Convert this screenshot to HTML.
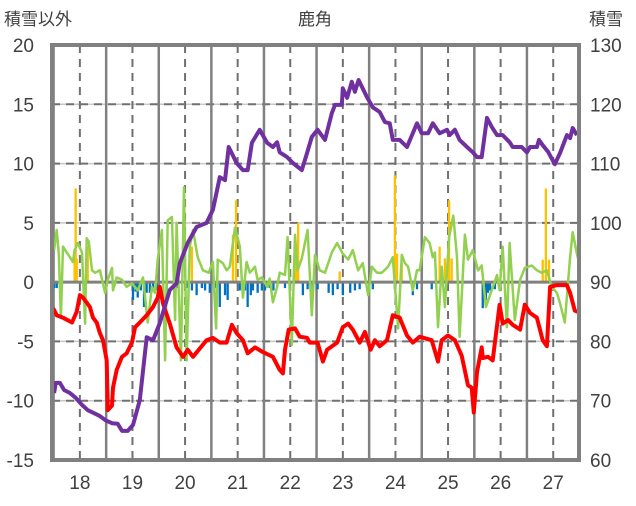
<!DOCTYPE html>
<html><head><meta charset="utf-8"><style>
body{margin:0;background:#fff;font-family:"Liberation Sans","Noto Sans CJK JP",sans-serif;}
svg text{font-family:"Liberation Sans","Noto Sans CJK JP",sans-serif;fill:#404040;}
</style></head><body>
<svg id="chart" width="636" height="501" xmlns="http://www.w3.org/2000/svg"></svg>
<script>
const purpleDays=[17.51,17.54,17.62,17.70,17.81,17.92,18.04,18.15,18.27,18.38,18.49,18.61,18.72,18.80,18.91,19.01,19.14,19.27,19.39,19.52,19.71,19.84,19.90,20.05,20.22,20.41,20.53,20.66,20.76,20.83,20.98,21.10,21.19,21.27,21.42,21.56,21.67,21.75,21.80,21.94,22.05,22.22,22.32,22.41,22.52,22.66,22.79,22.85,22.98,23.00,23.08,23.17,23.23,23.30,23.46,23.57,23.70,23.80,23.89,23.95,24.08,24.22,24.41,24.50,24.62,24.71,24.84,24.98,25.03,25.13,25.22,25.36,25.47,25.55,25.64,25.74,25.83,25.93,26.04,26.17,26.23,26.40,26.50,26.56,26.69,26.73,26.80,26.90,27.03,27.13,27.26,27.32,27.37,27.45];
const purpleVals=[71.3,73.0,73.0,71.8,71.3,70.5,69.3,68.4,67.9,67.4,66.7,66.2,66.1,64.9,64.9,65.9,70.1,80.7,80.2,83.1,88.7,89.8,93.2,96.6,99.3,100.0,102.2,107.7,107.2,112.8,110.1,108.9,108.9,113.5,115.7,113.5,112.8,113.6,111.9,111.1,110.1,108.9,111.8,114.5,115.7,114.0,118.5,119.9,119.9,122.7,121.1,123.8,122.1,124.1,121.2,119.5,118.7,117.0,116.8,114.0,114.0,112.8,116.8,115.1,115.1,116.8,115.1,115.7,114.8,115.7,114.0,112.8,111.9,111.1,111.1,117.7,116.2,114.8,114.8,113.6,112.8,112.8,111.9,112.8,112.8,114.0,113.1,112.0,109.9,111.8,114.8,114.3,116.0,114.8];
const redDays=[17.49,17.56,17.68,17.85,17.94,18.00,18.06,18.19,18.25,18.32,18.38,18.44,18.51,18.53,18.61,18.63,18.70,18.80,18.89,18.99,19.05,19.14,19.27,19.39,19.48,19.52,19.58,19.71,19.84,19.96,20.05,20.15,20.28,20.41,20.53,20.66,20.79,20.89,20.98,21.10,21.19,21.33,21.48,21.67,21.80,21.86,21.90,21.97,22.09,22.18,22.32,22.37,22.52,22.62,22.70,22.89,23.00,23.10,23.19,23.32,23.42,23.53,23.61,23.70,23.84,23.95,24.08,24.22,24.33,24.46,24.69,24.81,24.88,25.00,25.13,25.26,25.38,25.45,25.49,25.55,25.64,25.66,25.76,25.85,25.98,26.04,26.14,26.23,26.37,26.46,26.56,26.69,26.80,26.88,26.94,27.07,27.26,27.32,27.41,27.47];
const redVals=[-2.2,-2.8,-3.0,-3.4,-2.5,-1.1,-1.3,-2.1,-3.0,-3.4,-4.3,-4.9,-6.6,-10.8,-10.4,-8.9,-7.4,-6.3,-6.0,-5.1,-3.8,-3.4,-2.8,-2.1,-1.3,-0.4,-1.8,-3.5,-5.5,-6.3,-5.7,-6.3,-5.6,-4.9,-4.7,-5.1,-5.1,-3.6,-4.3,-4.9,-6.0,-5.5,-5.9,-6.3,-7.4,-7.7,-5.7,-4.0,-3.9,-4.6,-4.7,-5.1,-5.1,-6.7,-5.7,-5.1,-3.8,-3.5,-4.0,-5.1,-4.2,-5.7,-4.9,-5.4,-4.9,-2.8,-3.0,-4.5,-5.1,-4.6,-4.9,-6.7,-4.9,-4.5,-4.9,-6.2,-8.7,-8.9,-11.0,-7.6,-5.5,-6.4,-6.3,-6.6,-1.9,-3.5,-3.2,-3.6,-4.0,-1.9,-2.6,-3.0,-4.9,-5.4,-0.4,-0.25,-0.25,-0.9,-2.4,-2.5];
const greenDays=[17.51,17.56,17.60,17.64,17.68,17.75,17.81,17.87,17.90,17.96,18.04,18.10,18.13,18.17,18.23,18.29,18.38,18.48,18.53,18.61,18.63,18.70,18.80,18.89,18.99,19.10,19.20,19.29,19.37,19.43,19.48,19.56,19.62,19.67,19.75,19.81,19.84,19.92,19.98,20.03,20.09,20.15,20.24,20.34,20.45,20.53,20.59,20.62,20.72,20.79,20.85,20.95,21.04,21.10,21.17,21.23,21.33,21.38,21.46,21.56,21.61,21.67,21.75,21.80,21.90,21.95,22.03,22.09,22.14,22.22,22.33,22.41,22.47,22.56,22.66,22.79,22.89,23.00,23.10,23.19,23.29,23.38,23.48,23.55,23.65,23.74,23.86,23.95,24.05,24.12,24.18,24.24,24.33,24.41,24.46,24.56,24.65,24.71,24.75,24.81,24.88,24.94,25.02,25.10,25.17,25.22,25.32,25.38,25.47,25.57,25.64,25.72,25.83,25.93,25.98,26.04,26.12,26.17,26.27,26.37,26.46,26.59,26.69,26.78,26.88,26.97,27.07,27.13,27.22,27.32,27.37,27.45,27.51];
const greenVals=[2.7,4.4,2.4,-3.0,3.0,2.5,2.1,1.7,2.7,3.3,2.5,-3.5,3.7,3.4,1.0,0.8,1.0,-0.9,0.2,1.2,-0.7,0.4,0.2,-0.4,-0.1,-0.7,0.4,-3.4,-0.4,-0.9,1.9,4.4,-6.6,5.2,5.5,-3.2,5.0,-6.6,8.0,-6.6,3.0,4.4,2.1,1.0,0.8,1.7,-3.9,1.9,1.6,1.0,1.3,4.6,3.0,-1.3,1.7,0.8,1.3,0.2,0.4,-0.4,0.3,-1.7,-0.4,0.8,0.6,3.8,-5.3,4.0,1.0,2.0,4.4,-2.8,2.3,1.0,0.8,2.5,3.3,2.4,1.9,2.7,1.0,1.6,-1.1,1.3,0.8,0.8,1.3,2.1,-3.9,2.3,1.6,1.3,-0.7,1.0,1.0,3.8,3.3,2.1,2.5,-3.8,1.3,-2.1,3.8,5.6,2.1,-4.6,4.0,1.9,2.7,1.0,1.4,-2.1,-0.7,0.6,-0.7,3.0,-3.8,3.3,-3.2,0.2,1.2,1.4,1.0,0.8,1.0,-0.4,-0.9,-1.8,-3.4,2.1,4.2,2.4,1.3,1.4];
const snowDays=[17.90,17.92,17.94,18.15,20.13,20.91,20.97,22.11,22.15,22.94,23.99,24.03,24.12,24.84,24.94,25.02,25.07,26.80,26.86,26.92];
const snowVals=[2.0,7.9,2.0,3.0,3.0,4.0,6.9,3.0,5.0,0.9,9.0,2.4,1.6,3.0,2.0,6.9,2.0,1.9,7.9,1.9];
const meltDays=[17.51,17.56,17.62,19.01,19.06,19.10,19.16,19.22,19.27,19.33,19.39,19.46,19.65,19.84,20.03,20.13,20.22,20.32,20.38,20.47,20.57,20.66,20.76,20.81,21.04,21.14,21.19,21.25,21.29,21.38,21.46,21.52,21.61,21.68,21.90,22.24,22.33,22.43,22.52,22.73,22.81,22.90,23.00,23.14,23.23,23.32,23.57,23.99,24.33,24.41,24.69,25.66,25.72,25.76,25.80,25.89,26.97,27.05,27.09,27.32];
const meltVals=[-0.5,-0.5,-0.4,-1.5,-0.8,-1.3,-0.7,-2.1,-0.9,-0.9,-0.8,-0.7,-0.7,-0.5,-0.5,-0.7,-1.1,-0.5,-0.7,-0.9,-0.5,-2.1,-1.1,-1.5,-0.7,-0.7,-2.1,-1.1,-0.7,-0.9,-0.7,-0.7,-0.5,-0.7,-0.5,-1.1,-0.6,-0.6,-0.6,-0.9,-1.1,-0.6,-1.1,-0.9,-0.7,-0.6,-0.6,-0.6,-1.1,-0.6,-0.6,-2.2,-1.5,-0.9,-0.7,-0.6];
const leftTicks=[20,15,10,5,0,-5,-10,-15];
const rightTicks=[130,120,110,100,90,80,70,60];
const dayTicks=[18,19,20,21,22,23,24,25,26,27];

const NS='http://www.w3.org/2000/svg';
const svg=document.getElementById('chart');
const X0=52,X1=579,Y0=45,Y1=460,D0=17.47,D1=27.49;
const xs=d=>X0+(d-D0)/(D1-D0)*(X1-X0);
const yl=v=>Y0+(20-v)/35*(Y1-Y0);
const yr=v=>Y0+(130-v)/70*(Y1-Y0);
function mk(tag,attrs,parent){const e=document.createElementNS(NS,tag);for(const k in attrs)e.setAttribute(k,attrs[k]);(parent||svg).appendChild(e);return e;}

const grid=mk('g',{});


leftTicks.forEach(v=>{if(v===20||v===-15||v===0)return;
 mk('line',{x1:X0,x2:X1,y1:yl(v),y2:yl(v),stroke:'#c8c8c8','stroke-width':1.5},grid);
 mk('line',{x1:X0,x2:X1,y1:yl(v),y2:yl(v),stroke:'#707070','stroke-width':2,'stroke-dasharray':'8,6'},grid);});
for(let d=18;d<=27;d++){
 mk('line',{x1:xs(d),x2:xs(d),y1:Y0,y2:Y1,stroke:'#707070','stroke-width':2,'stroke-dasharray':'8,6'},grid);
 mk('line',{x1:xs(d-0.5),x2:xs(d-0.5),y1:Y0,y2:Y1,stroke:'#808080','stroke-width':2.5},grid);
}
const bw=2.3;
snowDays.forEach((d,i)=>{const r=mk('rect',{x:xs(d)-bw/2,y:yl(snowVals[i]),width:bw,height:yl(0)-yl(snowVals[i]),fill:'#FFC000'});
 
 });
meltDays.forEach((d,i)=>{const r=mk('rect',{x:xs(d)-bw/2,y:yl(0),width:bw,height:yl(meltVals[i])-yl(0),fill:'#0070C0'});
 
 });
const zl=mk('line',{x1:X0,x2:X1,y1:yl(0),y2:yl(0),stroke:'#808080','stroke-width':3});


function line(days,vals,fy,color,w,name){const p=mk('polyline',{points:days.map((d,i)=>xs(d).toFixed(1)+','+fy(vals[i]).toFixed(1)).join(' '),fill:'none',stroke:color,'stroke-width':w,'stroke-linejoin':'round'});
 
 }
line(greenDays,greenVals,yl,'#92D050',2.5,'green-series-line');
line(redDays,redVals,yl,'#FF0000',4,'red-series-line');
line(purpleDays,purpleVals,yr,'#7030A0',4,'snow-depth-line');
const fr=mk('rect',{x:X0,y:Y0,width:X1-X0,height:Y1-Y0,fill:'none',stroke:'#808080','stroke-width':4});


leftTicks.forEach(v=>{const t=mk('text',{x:34,y:yl(v)+7,'text-anchor':'end','font-size':19});t.textContent=v;
 
 });
rightTicks.forEach(v=>{const t=mk('text',{x:590,y:yr(v)+7,'font-size':19});t.textContent=v;
 
 });
dayTicks.forEach(d=>{const t=mk('text',{x:xs(d),y:489,'text-anchor':'middle','font-size':19});t.textContent=d;
 
 });
const t1=mk('text',{x:4,y:25,'font-size':17});t1.textContent='積雪以外';


const t2=mk('text',{x:315,y:25,'font-size':17,'text-anchor':'middle'});t2.textContent='鹿角';


const t3=mk('text',{x:589,y:25,'font-size':17});t3.textContent='積雪';


</script>
</body></html>
